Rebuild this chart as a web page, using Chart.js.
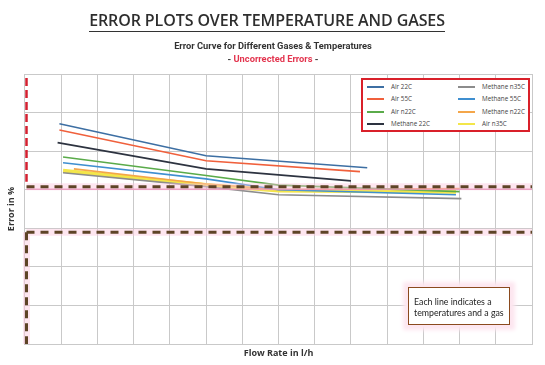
<!DOCTYPE html>
<html>
<head>
<meta charset="utf-8">
<script src="https://cdn.jsdelivr.net/npm/chart.js@4/dist/chart.umd.min.js"></script>
<style>
  html, body { margin:0; padding:0; background:#fff; }
  #wrap { position:relative; width:545px; height:365px; overflow:hidden; font-family:"Open Sans", sans-serif; }
  #c { position:absolute; left:0; top:0; }
  #title { position:absolute; left:0; width:534px; top:9px; text-align:center; font-size:16px; font-weight:600; color:#2e2e2e; font-family:"Open Sans", sans-serif; letter-spacing:-0.1px; }
  #title span { border-bottom:1.6px solid #333; padding-bottom:0px; }
  #sub1 { position:absolute; left:0; width:546px; top:40px; text-align:center; font-size:9.3px; font-weight:bold; color:#333; font-family:Roboto, sans-serif; }
  #sub2 { position:absolute; left:0; width:546px; top:53px; text-align:center; font-size:9.3px; font-weight:bold; color:#333; font-family:Roboto, sans-serif; }
  #sub2 .r { color:#e3354f; }
  #legend { position:absolute; left:361px; top:78px; width:165px; height:50px; border:2px solid #d9202a; background:#fff; }
  .li { position:absolute; font-size:6.3px; color:#444; white-space:nowrap; line-height:8px; }
  .li i { position:absolute; left:0; top:3px; width:17px; height:2px; }
  .li b { font-weight:normal; position:absolute; left:24px; top:0; }
  #note { position:absolute; left:408px; top:287px; width:102px; height:38px; border:1.5px solid #8a4a1e; background:#fff;
          box-shadow:0 0 4px 5px #fde6f0; font-family:Lato, sans-serif; font-size:8.8px; color:#222; line-height:11px; box-sizing:border-box; }
  #note div { position:absolute; left:5px; top:8px; white-space:nowrap; }
</style>
</head>
<body>
<div id="wrap">
  <canvas id="c" width="545" height="365"></canvas>
  <div id="title"><span>ERROR PLOTS OVER TEMPERATURE AND GASES</span></div>
  <div id="sub1">Error Curve for Different Gases &amp; Temperatures</div>
  <div id="sub2">- <span class="r">Uncorrected Errors</span> -</div>
  <div id="legend"></div>
  <div id="note"><div>Each line indicates a<br>temperatures and a gas</div></div>
</div>
<script>
// ---- data ----
const seriesNames = ["Air 22C","Air 55C","Air n22C","Methane 22C","Methane n35C","Methane 55C","Methane n22C","Air n35C"];
const seriesColors = ["#3d6fa3","#f0603c","#5aab4a","#2d3340","#8c8c8c","#3f8fd0","#f4a64a","#f3e64a"];
const air22X = [0.95, 5, 9.45];       const air22Y = [1.71, 0.88, 0.57];
const air55X = [0.95, 5, 9.25];       const air55Y = [1.55, 0.75, 0.47];
const airN22X = [1.05, 5, 7, 12];     const airN22Y = [0.85, 0.37, 0.12, -0.05];
const meth22X = [0.9, 5, 9.0];        const meth22Y = [1.22, 0.54, 0.23];
const methN35X = [1.05, 5, 7, 12.05]; const methN35Y = [0.44, 0.08, -0.13, -0.23];
const meth55X = [1.05, 5, 7, 11.9];   const meth55Y = [0.70, 0.28, 0.0, -0.13];
const methN22X = [1.35, 5, 7, 12];    const methN22Y = [0.54, 0.15, 0.0, 0.03];
const airN35X = [1.05, 5, 7, 11.9];   const airN35Y = [0.49, 0.12, -0.02, -0.05];
const xs = [air22X, air55X, airN22X, meth22X, methN35X, meth55X, methN22X, airN35X];
const ys = [air22Y, air55Y, airN22Y, meth22Y, methN35Y, meth55Y, methN22Y, airN35Y];
const legendLeftCol = ["Air 22C","Air 55C","Air n22C","Methane 22C"];
const legendRightCol = ["Methane n35C","Methane 55C","Methane n22C","Air n35C"];

// decoration levels (data units)
const upperDashY = 0.08, lowerDashY = -1.1;

const datasets = seriesNames.map((n, i) => ({
  label: n,
  data: xs[i].map((x, k) => ({x: x, y: ys[i][k]})),
  borderColor: seriesColors[i],
  borderWidth: n === "Air n35C" ? 4 : 1.6,
  pointRadius: 0,
  tension: 0,
  fill: false,
  order: n === "Air n35C" ? 10 : (n === "Methane n35C" ? 0 : 1)
}));

const deco = {
  id: 'deco',
  afterDatasetsDraw(chart) {
    const {ctx, scales:{x, y}} = chart;
    const x0 = x.getPixelForValue(0) + 1.5, x1 = x.getPixelForValue(14);
    const yU = y.getPixelForValue(upperDashY), yL = y.getPixelForValue(lowerDashY);
    const yTop = y.getPixelForValue(3), yBot = y.getPixelForValue(-4);
    ctx.save();
    // pink glow
    ctx.strokeStyle = 'rgba(252,200,222,0.45)';
    ctx.lineWidth = 7;
    ctx.beginPath();
    ctx.moveTo(x0, yU); ctx.lineTo(x1, yU);
    ctx.moveTo(x0, yL); ctx.lineTo(x1, yL);
    ctx.moveTo(x0, yL); ctx.lineTo(x0, yBot);
    ctx.stroke();
    ctx.strokeStyle = '#f08cb8'; ctx.lineWidth = 1;
    ctx.beginPath(); ctx.moveTo(x0, yU + 2.5); ctx.lineTo(x1, yU + 2.5); ctx.stroke();
    // brown dashes
    ctx.strokeStyle = '#5e4426'; ctx.lineWidth = 3; ctx.setLineDash([8, 6]);
    ctx.beginPath();
    ctx.moveTo(x0, yU); ctx.lineTo(x1, yU);
    ctx.moveTo(x0, yL); ctx.lineTo(x1, yL);
    ctx.stroke();
    ctx.setLineDash([8, 5]);
    ctx.beginPath(); ctx.moveTo(x0, yL); ctx.lineTo(x0, yBot); ctx.stroke();
    // red vertical dashes
    ctx.strokeStyle = '#d42030'; ctx.lineWidth = 2.5; ctx.setLineDash([8, 4]);
    ctx.beginPath(); ctx.moveTo(x0, yTop + 4); ctx.lineTo(x0, yU - 5); ctx.stroke();
    ctx.restore();
  }
};

new Chart(document.getElementById('c'), {
  type: 'line',
  data: { datasets },
  options: {
    responsive: false,
    animation: false,
    layout: { padding: { left: 6.2, right: 13, top: 74, bottom: 2.2 } },
    plugins: { legend: { display: false }, tooltip: { enabled: false } },
    scales: {
      x: {
        type: 'linear', min: 0, max: 14,
        ticks: { display: false, stepSize: 1 },
        grid: { color: '#c9c9c9', lineWidth: 1, drawTicks: false },
        border: { color: '#c9c9c9' },
        title: { display: true, text: 'Flow Rate in l/h', color: '#333', font: { family: 'Open Sans', size: 9, weight: 'bold' }, padding: { top: 4, bottom: 4 } }
      },
      y: {
        type: 'linear', min: -4, max: 3,
        ticks: { display: false, stepSize: 1 },
        grid: { color: '#c9c9c9', lineWidth: 1, drawTicks: false },
        border: { color: '#c9c9c9' },
        title: { display: true, text: 'Error in %', color: '#333', font: { family: 'Open Sans', size: 9, weight: 'bold' }, padding: { top: 0, bottom: 8 } }
      }
    }
  },
  plugins: [deco]
});

// HTML legend built from the arrays
const lg = document.getElementById('legend');
function addCol(names, left) {
  names.forEach((n, r) => {
    const i = seriesNames.indexOf(n);
    const d = document.createElement('div');
    d.className = 'li';
    d.style.left = left + 'px';
    d.style.top = (3 + r * 12.3) + 'px';
    d.innerHTML = '<i style="background:' + seriesColors[i] + '"></i><b>' + n + '</b>';
    lg.appendChild(d);
  });
}
addCol(legendLeftCol, 4);
addCol(legendRightCol, 95);
</script>
</body>
</html>
